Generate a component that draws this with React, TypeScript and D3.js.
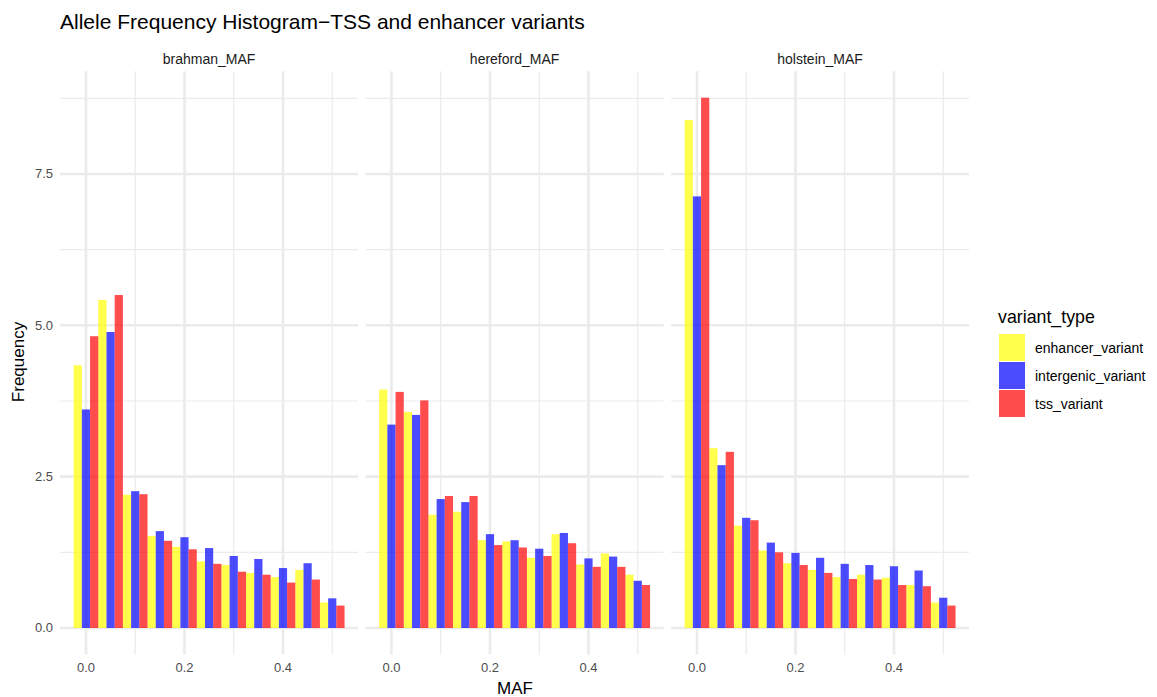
import React from "react";
import * as d3 from "d3";

const binCenters = [0, 0.05, 0.1, 0.15, 0.2, 0.25, 0.3, 0.35, 0.4, 0.45, 0.5];
const binWidth = 0.05;
const panels = ["brahman_MAF", "hereford_MAF", "holstein_MAF"];
const variantTypes = ["enhancer_variant", "intergenic_variant", "tss_variant"];
const variantColors = ["#FFFF00", "#0000FF", "#FF0000"];

const brahmanEnhancer = [4.34, 5.42, 2.2, 1.52, 1.34, 1.1, 1.04, 0.91, 0.84, 0.96, 0.42];
const brahmanIntergenic = [3.61, 4.89, 2.26, 1.6, 1.5, 1.32, 1.19, 1.14, 0.99, 1.07, 0.49];
const brahmanTss = [4.82, 5.5, 2.21, 1.44, 1.3, 1.06, 0.93, 0.88, 0.75, 0.8, 0.37];

const herefordEnhancer = [3.94, 3.57, 1.87, 1.92, 1.45, 1.43, 1.16, 1.55, 1.05, 1.23, 0.88];
const herefordIntergenic = [3.36, 3.52, 2.13, 2.08, 1.55, 1.45, 1.31, 1.57, 1.15, 1.18, 0.78];
const herefordTss = [3.9, 3.76, 2.18, 2.18, 1.37, 1.33, 1.19, 1.4, 1.01, 1.01, 0.71];

const holsteinEnhancer = [8.39, 2.97, 1.69, 1.28, 1.07, 0.96, 0.84, 0.88, 0.83, 0.71, 0.42];
const holsteinIntergenic = [7.13, 2.69, 1.82, 1.41, 1.24, 1.16, 1.06, 1.04, 1.02, 0.95, 0.5];
const holsteinTss = [8.76, 2.91, 1.78, 1.25, 1.04, 0.91, 0.81, 0.8, 0.71, 0.69, 0.37];

const xTicks = [0, 0.2, 0.4];
const xMinor = [0.1, 0.3, 0.5];
const yTicks = [0, 2.5, 5, 7.5];
const yMinor = [1.25, 3.75, 6.25, 8.75];

const panelSeries = [
  [brahmanEnhancer, brahmanIntergenic, brahmanTss],
  [herefordEnhancer, herefordIntergenic, herefordTss],
  [holsteinEnhancer, holsteinIntergenic, holsteinTss],
];

const FONT = "'Liberation Sans', Arial, Helvetica, sans-serif";

export default function App() {
  const W = 1157;
  const H = 697;
  const panelTop = 71.2;
  const panelBottom = 654.5;
  const panelW = 298;
  const panelGap = 7.5;
  const firstLeft = 60.1;

  const allVals = panelSeries.flat(2);
  const yMax = d3.max(allVals) as number;
  const yExp = yMax * 0.05;
  const y = d3.scaleLinear().domain([-yExp, yMax + yExp]).range([panelBottom, panelTop]);

  const xLo = binCenters[0] - binWidth / 2;
  const xHi = binCenters[binCenters.length - 1] + binWidth / 2;
  const xExp = (xHi - xLo) * 0.05;

  const gridMajor = "#EBEBEB";

  return (
    <svg width={W} height={H} style={{ position: "absolute", left: 0, top: 0, background: "#fff" }} fontFamily={FONT}>
      <rect x={0} y={0} width={W} height={H} fill="#fff" />
      <text x={60} y={29} fontSize={21} fill="#000">
        Allele Frequency Histogram−TSS and enhancer variants
      </text>

      {panels.map((name, pi) => {
        const left = firstLeft + pi * (panelW + panelGap);
        const x = d3.scaleLinear().domain([xLo - xExp, xHi + xExp]).range([left, left + panelW]);
        const sub = d3.scaleBand().domain(variantTypes).range([0, x(binWidth) - x(0)]).padding(0);
        return (
          <g key={name}>
            {yMinor.map((t) => (
              <line key={"ym" + t} x1={left} x2={left + panelW} y1={y(t)} y2={y(t)} stroke={gridMajor} strokeWidth={1.2} />
            ))}
            {xMinor.map((t) => (
              <line key={"xm" + t} x1={x(t)} x2={x(t)} y1={panelTop} y2={panelBottom} stroke={gridMajor} strokeWidth={1.2} />
            ))}
            {yTicks.map((t) => (
              <line key={"yM" + t} x1={left} x2={left + panelW} y1={y(t)} y2={y(t)} stroke={gridMajor} strokeWidth={2.6} />
            ))}
            {xTicks.map((t) => (
              <line key={"xM" + t} x1={x(t)} x2={x(t)} y1={panelTop} y2={panelBottom} stroke={gridMajor} strokeWidth={2.6} />
            ))}
            {variantTypes.map((vt, vi) =>
              panelSeries[pi][vi].map((v, bi) => {
                const bx = x(binCenters[bi] - binWidth / 2) + (sub(vt) as number);
                return (
                  <rect
                    key={vt + bi}
                    x={bx}
                    y={y(v)}
                    width={sub.bandwidth()}
                    height={y(0) - y(v)}
                    fill={variantColors[vi]}
                    fillOpacity={0.7}
                  />
                );
              })
            )}
            <text x={left + panelW / 2} y={64} textAnchor="middle" fontSize={14} fill="#1A1A1A">
              {name}
            </text>
            {xTicks.map((t) => (
              <text key={"xl" + t} x={x(t)} y={672} textAnchor="middle" fontSize={13} fill="#4D4D4D">
                {d3.format(".1f")(t)}
              </text>
            ))}
          </g>
        );
      })}

      {yTicks.map((t) => (
        <text key={"yl" + t} x={53} y={y(t) + 4.5} textAnchor="end" fontSize={13} fill="#4D4D4D">
          {d3.format(".1f")(t)}
        </text>
      ))}

      <text x={515} y={694} textAnchor="middle" fontSize={17} fill="#000">
        MAF
      </text>
      <text transform={`translate(24,362) rotate(-90)`} textAnchor="middle" fontSize={17} fill="#000">
        Frequency
      </text>

      <text x={998} y={323} fontSize={17.8} fill="#000">
        variant_type
      </text>
      {variantTypes.map((vt, vi) => (
        <g key={"lg" + vt}>
          <rect x={999} y={334 + vi * 28} width={26} height={27} fill={variantColors[vi]} fillOpacity={0.7} />
          <text x={1035} y={334 + vi * 28 + 18.5} fontSize={14} fill="#000">
            {vt}
          </text>
        </g>
      ))}
    </svg>
  );
}
